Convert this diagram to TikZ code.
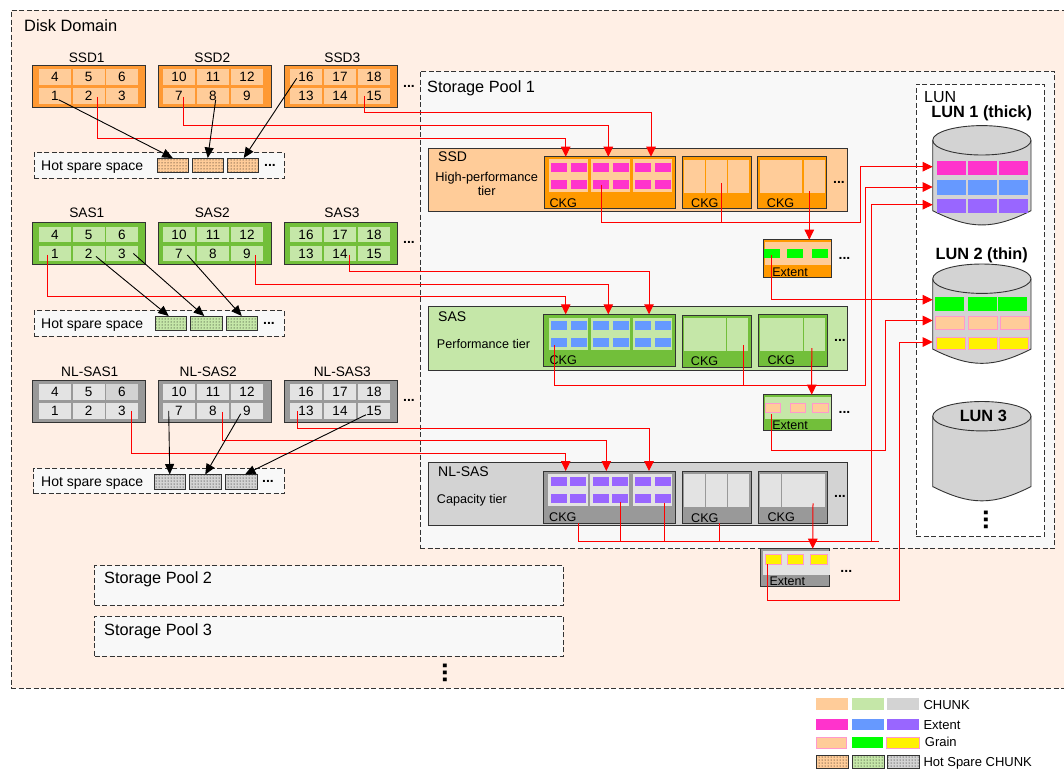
\documentclass[tikz,border=0pt]{standalone}
\usepackage{fontspec}
\setmainfont{Liberation Sans}
\usetikzlibrary{
  arrows.meta,
  patterns
}
\definecolor{dsdomain}{HTML}{FFEFE5}
\definecolor{dspool}{HTML}{F8F8F8}
\definecolor{dsline}{HTML}{333333}
\definecolor{dsorange}{HTML}{FF9933}
\definecolor{dsamber}{HTML}{FF9900}
\definecolor{dsgreen}{HTML}{72BF3A}
\definecolor{dsgrey}{HTML}{999999}
\definecolor{chorange}{HTML}{FFCC99}
\definecolor{chgreen}{HTML}{C5E7A8}
\definecolor{chgrey}{HTML}{D3D3D3}
\definecolor{chpale}{HTML}{E3E3E3}
\definecolor{expink}{HTML}{FF33CC}
\definecolor{exblue}{HTML}{6699FF}
\definecolor{expurple}{HTML}{9966FF}
\definecolor{grborder}{HTML}{FF99CC}
\tikzset{
  anyrect/.style={draw=dsline, line width=0.9pt, anchor=north west, inner sep=0pt, outer sep=0pt},
  zonebox/.style={anyrect, line width=1pt, dash pattern=on 5pt off 2.5pt},
  diskcell/.style={anchor=north west, inner sep=0pt, outer sep=0pt, minimum width=32pt, minimum height=15.5pt,
    font=\fontsize{13.5}{15}\selectfont},
  plain/.style={anchor=north west, inner sep=0pt, outer sep=0pt},
  grain/.style={plain, draw=grborder, line width=0.8pt},
  hotchunk/.style={anyrect, preaction={fill=#1}, pattern=dots, minimum width=31.5pt, minimum height=14.5pt},
  txt/.style={anchor=west, inner sep=0pt, text depth=0pt, font=\fontsize{#1}{#1}\selectfont},
  ctxt/.style={inner sep=0pt, font=\fontsize{#1}{#1}\selectfont},
  btxt/.style={inner sep=0pt, font=\fontsize{#1}{#1}\selectfont\bfseries},
  moredots/.style={inner sep=0pt, font=\fontsize{14}{14}\selectfont\bfseries},
  updots/.style={inner sep=0pt, rotate=90, font=\fontsize{26}{26}\selectfont\bfseries},
  lundisk/.style={inner sep=0pt, outer sep=0pt, minimum width=98.3pt, minimum height=99.4pt},
  drumline/.style={draw=dsline, line width=0.9pt},
  redline/.style={draw=red, line width=1pt},
  redarrow/.style={redline, -{Triangle[length=10pt,width=9.5pt]}},
  sparearrow/.style={draw=black, line width=0.9pt, -{Triangle[length=10.5pt,width=9pt]}},
  fix nl1c6/.style={fill=chgrey}
}
\newcommand{\lundrum}[1]{%
  \draw[drumline, fill=chgrey] ([yshift=-14.7pt]#1.north west)
    arc[start angle=180, end angle=0, x radius=49.15pt, y radius=14.7pt]
    -- ([yshift=14.3pt]#1.south east)
    .. controls +(-38pt,-19pt) and +(38pt,-19pt) .. ([yshift=14.3pt]#1.south west) -- cycle;
  \draw[drumline] ([yshift=-14.7pt]#1.north west)
    arc[start angle=180, end angle=360, x radius=49.15pt, y radius=14.7pt];
}
\begin{document}
\begin{tikzpicture}[x=1pt, y=-1pt]
  \path[use as bounding box, clip] (0,0) rectangle (1064,769);

  % Zones
  \node[zonebox, fill=dsdomain, minimum width=1070pt, minimum height=678pt] (domain) at (11,10) {};
  \node[txt=16.4] (domaintext) at (24,25.5) {Disk Domain};
  \node[zonebox, fill=dspool, minimum width=634.5pt, minimum height=477.3pt] (poolA) at (420,71) {};
  \node[txt=16.3] (poolAtext) at (427,87) {Storage Pool 1};
  \node[zonebox, fill=dspool, minimum width=468.8pt, minimum height=40pt] (poolB) at (94.5,565.5) {};
  \node[txt=16.3] (poolBtext) at (104,578) {Storage Pool 2};
  \node[zonebox, fill=dspool, minimum width=468.8pt, minimum height=40pt] (poolC) at (94.5,616) {};
  \node[txt=16.3] (poolCtext) at (104,629.3) {Storage Pool 3};
  \node[updots] (poolmore) at (445,673) {...};
  \node[zonebox, fill=white, minimum width=128pt, minimum height=452.7pt] (lunzone) at (916,84) {};
  \node[txt=16] (lunzonetext) at (924,96.7) {LUN};

  % Disks
  \foreach \tier/\ytop/\body/\cellcol in {ssd/65/dsorange/chorange, sas/222.7/dsgreen/chgreen, nl/380/dsgrey/chpale}{
    \foreach \d/\x/\xa/\xb/\xc/\first in {1/32.5/39/72.7/106/1, 2/158/163/197/231/7, 3/284.5/290/324/358/13}{
      \node[anyrect, fill=\body, minimum width=113pt, minimum height=42pt] (\tier\d) at (\x,\ytop) {};
      \foreach \cx [count=\k from 0] in {\xa,\xb,\xc}{
        \pgfmathtruncatemacro\lo{\first+\k}
        \pgfmathtruncatemacro\hi{\first+\k+3}
        \node[diskcell, fill=\cellcol, fix \tier\d c\hi/.try] (\tier\d c\hi) at (\cx,\ytop+4) {\hi};
        \node[diskcell, fill=\cellcol] (\tier\d c\lo) at (\cx,\ytop+23) {\lo};
      }
    }
  }
  \foreach \nm/\lx/\ly/\txtval in {ssd1/86.7/57.5/SSD1, ssd2/212.3/57.5/SSD2, ssd3/342.3/57.5/SSD3,
    sas1/86.8/212.7/SAS1, sas2/212.3/212.7/SAS2, sas3/342/212.7/SAS3,
    nl1/89.8/372/NL-SAS1, nl2/208.3/372/NL-SAS2, nl3/342.3/372/NL-SAS3}
    \node[ctxt=13.7] (\nm name) at (\lx,\ly) {\txtval};
  \node[moredots] (ssdmore) at (409,86) {...};
  \node[moredots] (sasmore) at (409,242) {...};
  \node[moredots] (nlmore) at (409,400.6) {...};

  % Hot spare space
  \node[zonebox, fill=dspool, minimum width=250pt, minimum height=25.3pt] (ssdspare) at (34,152.7) {};
  \node[txt=14] (ssdsparetext) at (41,165.3) {Hot spare space};
  \node[hotchunk=chorange] (ssdhotA) at (157,158) {};
  \node[hotchunk=chorange] (ssdhotB) at (192,158) {};
  \node[hotchunk=chorange] (ssdhotC) at (227,158) {};
  \node[moredots] (ssdsparemore) at (270,165) {...};

  \node[zonebox, fill=dspool, minimum width=250pt, minimum height=25.6pt] (sasspare) at (34,310.7) {};
  \node[txt=14] (sassparetext) at (41,323.5) {Hot spare space};
  \node[hotchunk=chgreen] (sashotA) at (155,316) {};
  \node[hotchunk=chgreen] (sashotB) at (190.5,316) {};
  \node[hotchunk=chgreen] (sashotC) at (226,316) {};
  \node[moredots] (sassparemore) at (269,323) {...};

  \node[zonebox, fill=dspool, minimum width=250.5pt, minimum height=25.4pt] (nlspare) at (33.5,468.3) {};
  \node[txt=14] (nlsparetext) at (41,481.3) {Hot spare space};
  \node[hotchunk=chgrey] (nlhotA) at (154,474.5) {};
  \node[hotchunk=chgrey] (nlhotB) at (189.5,474.5) {};
  \node[hotchunk=chgrey] (nlhotC) at (225.5,474.5) {};
  \node[moredots] (nlsparemore) at (268,481) {...};

  % Tiers
  \node[anyrect, fill=chorange, minimum width=419pt, minimum height=62.7pt] (ssdtier) at (428.7,148.3) {};
  \node[txt=14] (ssdtiername) at (438,157) {SSD};
  \node[ctxt=12.8, align=center] (ssdtiertext) at (486.7,184.2) {High-performance\\[1pt]tier};
  \node[anyrect, fill=chgreen, minimum width=419pt, minimum height=63.3pt] (sastier) at (428.7,306.7) {};
  \node[txt=14] (sastiername) at (438,316.7) {SAS};
  \node[txt=12.6] (sastiertext) at (436.7,343.7) {Performance tier};
  \node[anyrect, fill=chgrey, minimum width=419pt, minimum height=63.3pt] (nltier) at (428.7,462) {};
  \node[txt=14] (nltiername) at (438,472) {NL-SAS};
  \node[txt=12.6] (nltiertext) at (436.7,498.7) {Capacity tier};

  % CKG
  \foreach \nm/\x/\y/\w/\h/\col/\lx/\ly in {
    ssdA/544/156.7/131.7/52/dsamber/549.3/202.7, ssdB/682.3/156.7/68.7/52/dsamber/691/202.7, ssdC/757.7/156.7/68.6/52/dsamber/766.7/202.7,
    sasA/543.3/314.3/132.4/52.4/dsgreen/549.3/360.3, sasB/682/315/69/52.3/dsgreen/690.7/361.3, sasC/758.7/314.3/68.6/52.4/dsgreen/767.3/360.3,
    nlA/543.3/471/131.7/52/dsgrey/549/516.7, nlB/682/471.3/69/52/dsgrey/691/517.7, nlC/758.7/471/68.6/52/dsgrey/767.3/516.7}{
    \node[anyrect, fill=\col, minimum width=\w pt, minimum height=\h pt] (\nm) at (\x,\y) {};
    \node[txt=12.6] (\nm text) at (\lx,\ly) {CKG};
  }
  \node[moredots] (ssdckgmore) at (839,182) {...};
  \node[moredots] (sasckgmore) at (840,340.3) {...};
  \node[moredots] (nlckgmore) at (840,496.3) {...};

  % Chunks
  \foreach \nm/\x/\y/\w/\h/\col in {
    ssdAa/549/159.3/39.3/32.7/chorange, ssdAb/591/159.3/39/32.7/chorange, ssdAc/633.3/159.3/39/32.7/chorange,
    ssdBa/683.7/160/21.3/32.7/chorange, ssdBb/705.7/160/21.3/32.7/chorange, ssdBc/727.7/160/21.6/32.7/chorange,
    ssdCa/759.7/160/42.3/32.7/chorange, ssdCb/804/160/21/32.7/chorange,
    sasAa/549/317.7/39.3/32.3/chgreen, sasAb/591/317.7/39/32.3/chgreen, sasAc/633.3/317.7/39/32.3/chgreen,
    sasBa/683.7/317.7/42.5/33.3/chgreen, sasBb/727.2/317.7/21.1/33.3/chgreen,
    sasCa/760.3/317.7/42.5/33/chgreen, sasCb/803.8/317.7/21.5/33/chgreen,
    nlAa/548.3/474/39.4/32/chpale, nlAb/590.3/474/39/32/chpale, nlAc/632.7/474/39.3/32/chpale,
    nlBa/683.7/474/21.3/33/chpale, nlBb/705.7/474/21.3/33/chpale, nlBc/727.7/474/21.6/33/chpale,
    nlCa/760/474/21.3/33/chpale, nlCb/782.2/474/21.3/33/chpale, nlCc/804.2/474/20.8/33/chpale}
    \node[plain, fill=\col, minimum width=\w pt, minimum height=\h pt] (\nm) at (\x,\y) {};

  % Extents in the first CKG of each tier
  \foreach \tier/\col/\ya/\yb/\xlist in {
    ssd/expink/163/180/{551,571,593,613,635,655},
    sas/exblue/321/338/{551,571,593,613,635,655},
    nl/expurple/477/494/{551,570,593,612,635,655}}{
    \foreach \x [count=\i] in \xlist{
      \node[plain, fill=\col, minimum width=16pt, minimum height=9pt] (\tier ex\i a) at (\x,\ya) {};
      \node[plain, fill=\col, minimum width=16pt, minimum height=9pt] (\tier ex\i b) at (\x,\yb) {};
    }
  }

  % Extents under the tiers
  \node[anyrect, fill=dsamber, minimum width=68.4pt, minimum height=37.3pt] (ssdext) at (763.3,239.7) {};
  \node[plain, fill=chorange, minimum width=66pt, minimum height=23.3pt] (ssdextband) at (764.7,241.7) {};
  \foreach \x [count=\i] in {763.7,787,812}
    \node[plain, fill=green, minimum width=16.3pt, minimum height=9pt] (ssdgr\i) at (\x,249) {};
  \node[ctxt=12.5] (ssdexttext) at (790,272.7) {Extent};
  \node[moredots] (ssdextmore) at (844.5,258) {...};

  \node[anyrect, fill=dsgreen, minimum width=68.4pt, minimum height=35.6pt] (sasext) at (763.3,394.7) {};
  \node[plain, fill=chgreen, minimum width=66pt, minimum height=22.3pt] (sasextband) at (764.7,396.7) {};
  \foreach \x [count=\i] in {765,790,812.3}
    \node[grain, fill=chorange, minimum width=15.7pt, minimum height=9.4pt] (sasgr\i) at (\x,403.3) {};
  \node[ctxt=12.5] (sasexttext) at (790,425.3) {Extent};
  \node[moredots] (sasextmore) at (844.5,412.3) {...};

  \node[anyrect, fill=dsgrey, minimum width=69pt, minimum height=37.3pt] (nlext) at (760.7,548.7) {};
  \node[plain, fill=chpale, minimum width=67pt, minimum height=24.3pt] (nlextband) at (762.7,550.7) {};
  \foreach \x [count=\i] in {765.3,787.3,810.7}
    \node[grain, fill=yellow, minimum width=16.3pt, minimum height=9.4pt] (nlgr\i) at (\x,554.7) {};
  \node[ctxt=12.5] (nlexttext) at (787.3,581.7) {Extent};
  \node[moredots] (nlextmore) at (846.3,571.3) {...};

  % LUNs
  \node[btxt=16.3] (lunAtext) at (981.7,113.3) {LUN 1 (thick)};
  \node[lundisk] (lunA) at (981.85,175.3) {};
  \lundrum{lunA}
  \foreach \y/\h/\col in {161/14/expink, 180/15/exblue, 199/14/expurple}
    \foreach \x in {937,968,999}
      \node[plain, fill=\col, minimum width=29pt, minimum height=\h pt] (lunA\x\col) at (\x,\y) {};

  \node[btxt=16.3] (lunBtext) at (981.7,255.7) {LUN 2 (thin)};
  \node[lundisk] (lunB) at (981.85,313.7) {};
  \lundrum{lunB}
  \foreach \x in {935,968,998}
    \node[plain, fill=green, minimum width=29pt, minimum height=14pt] (lunBg\x) at (\x,297) {};
  \foreach \x in {935.7,968.3,1000}
    \node[grain, fill=chorange, minimum width=29pt, minimum height=12.7pt] (lunBp\x) at (\x,316.3) {};
  \foreach \x in {936,968.3,999.7}
    \node[grain, fill=yellow, minimum width=29pt, minimum height=12.4pt] (lunBy\x) at (\x,337.3) {};

  \node[lundisk] (lunC) at (981.85,451.2) {};
  \lundrum{lunC}
  \node[btxt=16.3] (lunCtext) at (983.3,416) {LUN 3};
  \node[updots] (lunmore) at (986,519.7) {...};

  % Disks to CKG
  \draw[redarrow] ([xshift=9pt,yshift=-1pt]ssd1c2.center) |- (565.7,138.3) -- (565.7,0 |- ssdA.north);
  \draw[redarrow] ([xshift=4.7pt,yshift=-1pt]ssd2c7.center) |- (608.3,125) -- (608.3,0 |- ssdA.north);
  \draw[redarrow] ([xshift=-9.3pt]ssd3c15.center) |- (651,112.7) -- (651,0 |- ssdA.north);
  \draw[redarrow] ([xshift=-7.3pt,yshift=-1.5pt]sas1c1.center) |- (565.7,296.5) -- (565.7,0 |- sasA.north);
  \draw[redarrow] ([xshift=8pt,yshift=-1.5pt]sas2c9.center) |- (608.3,284.2) -- (608.3,0 |- sasA.north);
  \draw[redarrow] ([xshift=9.7pt,yshift=-1.5pt]sas3c14.center) |- (649,271.8) -- (649,0 |- sasA.north);
  \draw[redarrow] ([xshift=9pt]nl1c3.center) |- (565.7,453) -- (565.7,0 |- nlA.north);
  \draw[redarrow] ([xshift=9.7pt,yshift=-1pt]nl2c8.center) |- (606.3,440.2) -- (606.3,0 |- nlA.north);
  \draw[redarrow] ([xshift=-9pt]nl3c13.center) |- (649,428) -- (649,0 |- nlA.north);

  % Disks to hot spare space
  \draw[sparearrow] ([shift={(3.7pt,-4pt)}]ssd1c1.center) -- (ssdhotA.north);
  \draw[sparearrow] ([shift={(2.7pt,-4pt)}]ssd2c8.center) -- (ssdhotB.north);
  \draw[sparearrow] ([shift={(-9.3pt,-1.5pt)}]ssd3c16.center) -- ([xshift=1pt]ssdhotC.north);
  \draw[sparearrow] ([shift={(7.3pt,-3pt)}]sas1c2.center) -- ([xshift=-2pt]sashotA.north);
  \draw[sparearrow] ([xshift=11.3pt]sas1c3.center) -- ([xshift=-2pt]sashotB.north);
  \draw[sparearrow] ([shift={(8.3pt,-1.5pt)}]sas2c7.center) -- (sashotC.north);
  \draw[sparearrow] ([xshift=-10.3pt]nl2c7.center) -- (nlhotA.north);
  \draw[sparearrow] ([shift={(-6.3pt,-3pt)}]nl2c9.center) -- (nlhotB.north);
  \draw[sparearrow] ([shift={(-8pt,-4pt)}]nl3c15.center) -- ([xshift=3.7pt]nlhotC.north);

  % CKG to LUN 1
  \coordinate (ssdbus) at (860.7,222);
  \coordinate (sasbus) at (865.3,385.7);
  \coordinate (nlbus) at (871,541);
  \coordinate (nlstub) at (879,541);
  \draw[redarrow] (ssdex3b.center) |- (ssdbus) -- (860.7,166.7) -- (lunA.west |- 860.7,166.7);
  \draw[redline] ([shift={(4.7pt,-7pt)}]ssdBb.center) |- (ssdbus);
  \draw[redarrow] ([shift={(-5pt,-2.5pt)}]sasex1b.center) |- (sasbus) -- (865.3,187) -- (lunA.west |- 865.3,187);
  \draw[redline] ([shift={(6pt,-10.6pt)}]sasBb.center) |- (sasbus);
  \draw[redline] ([xshift=-30.8pt]nlA.south) |- (nlstub);
  \draw[redline] ([shift={(0.7pt,-3pt)}]nlex4b.center) |- (nlbus);
  \draw[redline] ([shift={(1.3pt,-4pt)}]nlex6b.center) |- (nlbus);
  \draw[redline] ([xshift=2.5pt]nlB.south) |- (nlbus);
  \draw[redarrow] (nlbus) -- (871,204.7) -- (lunA.west |- 871,204.7);

  % CKG to extents
  \draw[redarrow] ([shift={(-5.2pt,-14.7pt)}]ssdCb.center) -- (809.3,0 |- ssdext.north);
  \draw[redarrow] ([shift={(-2.8pt,-14pt)}]sasCb.center) -- (811.7,0 |- sasext.north);
  \draw[redarrow] ([shift={(-1.6pt,-12.8pt)}]nlCc.center) -- (812.7,0 |- nlext.north);

  % Extents to LUN 2
  \draw[redarrow] ([shift={(-0.8pt,-1.5pt)}]ssdgr1.center) |- (lunB.west |- 771,299.7);
  \draw[redarrow] ([shift={(-1.8pt,-6pt)}]sasgr1.center) |- (885.5,450) -- (885.5,320.5) -- (lunB.west |- 885.5,320.5);
  \draw[redarrow] ([shift={(-6.2pt,-4.7pt)}]nlgr1.center) |- (899,600.7) -- (899,342) -- (lunB.west |- 899,342);

  % Legend
  \foreach \x/\col in {816/chorange, 852/chgreen, 887/chgrey}
    \node[plain, fill=\col, minimum width=32pt, minimum height=12pt] (legC\x) at (\x,698) {};
  \node[txt=13] (legCtext) at (923.3,704.5) {CHUNK};
  \foreach \x/\col in {816/expink, 852/exblue, 887/expurple}
    \node[plain, fill=\col, minimum width=32pt, minimum height=11pt] (legE\x) at (\x,719) {};
  \node[txt=13] (legEtext) at (923.3,724.7) {Extent};
  \node[grain, fill=chorange, minimum width=30pt, minimum height=11pt] (legGa) at (816,737) {};
  \node[plain, fill=green, minimum width=31pt, minimum height=11pt] (legGb) at (852,737) {};
  \node[grain, fill=yellow, minimum width=33pt, minimum height=11pt] (legGc) at (886,737) {};
  \node[txt=13] (legGtext) at (924.7,742) {Grain};
  \foreach \x/\col in {816/chorange, 852/chgreen, 887/chgrey}
    \node[hotchunk=\col, minimum width=32pt, minimum height=12.5pt] (legH\x) at (\x,755.7) {};
  \node[txt=13] (legHtext) at (923.3,761.7) {Hot Spare CHUNK};
\end{tikzpicture}
\end{document}
